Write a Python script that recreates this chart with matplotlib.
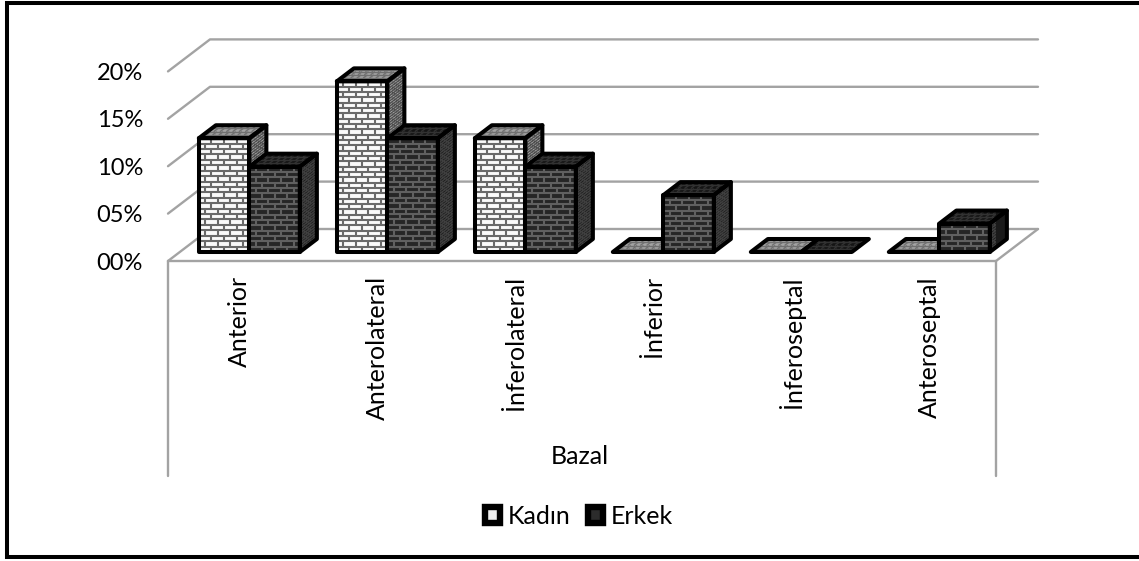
import numpy as np
import matplotlib
matplotlib.use("Agg")
import matplotlib.pyplot as plt
from matplotlib.collections import LineCollection
from matplotlib.patches import Polygon, Rectangle
from matplotlib.lines import Line2D
from matplotlib.transforms import ScaledTranslation

plt.rcParams["font.family"] = ["Lato", "DejaVu Sans"]

# Survey data
categories = ["Anterior", "Anterolateral", "İnferolateral", "İnferior", "İnferoseptal", "Anteroseptal"]
kadin = [12, 18, 12, 0, 0, 0]
erkek = [9, 12, 9, 6, 0, 3]
y_ticks = [0, 5, 10, 15, 20]
series_names = ["Kadın", "Erkek"]
group_label = "Bazal"

W, H = 1139, 561
fig = plt.figure(figsize=(W / 100, H / 100), dpi=100, facecolor="white")

# Axes rectangle is the front plane of the oblique 3D box
PX_LEFT, PX_RIGHT, PX_ZERO, PX_PER_PCT = 168, 996, 261, 9.48
ax = fig.add_axes([PX_LEFT / W, (H - PX_ZERO) / H, (PX_RIGHT - PX_LEFT) / W, 20 * PX_PER_PCT / H])
ax.set_xlim(0, len(categories))
ax.set_ylim(0, 20)
ax.patch.set_visible(False)
for s in ax.spines.values():
    s.set_visible(False)

ux = len(categories) / (PX_RIGHT - PX_LEFT)  # data units per pixel, x
uy = 1 / PX_PER_PCT                          # data units per pixel, y

# Oblique projection: depth 0 is the front plane, depth 1 the back wall
DX, DY = 42 * ux, 32 * uy


def proj(x, y, z):
    return np.array([x + z * DX, y + z * DY])


GRID = "#a3a3a3"
grid_kw = dict(color=GRID, lw=1.7, clip_on=False, solid_capstyle="round", zorder=1)
for t in y_ticks:
    a, b, c = proj(0, t, 0), proj(0, t, 1), proj(len(categories), t, 1)
    ax.plot([a[0], b[0], c[0]], [a[1], b[1], c[1]], **grid_kw)
# Floor edges
a, b = proj(len(categories), 0, 0), proj(len(categories), 0, 1)
ax.plot([0, len(categories)], [0, 0], **grid_kw)
ax.plot([a[0], b[0]], [a[1], b[1]], **grid_kw)
# Multi-level category brackets below the floor
drop = -(476 - PX_ZERO) * uy
for xe in (0, len(categories)):
    ax.plot([xe, xe], [0, drop], **grid_kw)


def brick_face(corner, u, v, base, mortar, n_u, n_v, z, lw=1.5):
    """Fill the parallelogram corner+u+v and lay a running-bond brick pattern on it."""
    corner, u, v = map(np.asarray, (corner, u, v))
    pts = [corner, corner + u, corner + u + v, corner + v]
    ax.add_patch(Polygon(pts, closed=True, facecolor=base, edgecolor="none", clip_on=False, zorder=z))
    segs = []
    for i in range(1, n_v):
        f = i / n_v
        segs.append([corner + f * v, corner + f * v + u])
    for i in range(n_v):
        f0, f1 = i / n_v, (i + 1) / n_v
        offset = 0.5 if i % 2 else 0.0
        for k in np.arange(offset, n_u + 0.01):
            g = k / n_u
            if 0 < g < 1:
                segs.append([corner + g * u + f0 * v, corner + g * u + f1 * v])
    if segs:
        ax.add_collection(LineCollection(segs, colors=mortar, linewidths=lw, zorder=z + 0.1))


def outline(pts, z):
    ax.add_patch(Polygon(pts, closed=True, facecolor="none", edgecolor="black", lw=2.9,
                         joinstyle="round", clip_on=False, zorder=z + 0.2))


BRICK_H = 5.4  # brick course, pixels
STYLE = {
    "Kadın": dict(front=("#fafafa", "#6a6a6a"), side=("#b4b4b4", "#4e4e4e"), top=("#a4a4a4", "#707070")),
    "Erkek": dict(front=("#262626", "#606060"), side=("#1a1a1a", "#404040"), top=("#141414", "#323232")),
}
Z_FRONT, Z_BACK = 9 / 32, 22 / 32
GROUP_W = 101 * ux
BAR_W = GROUP_W / 2
MARGIN = 19 * ux


def draw_bar(x0, value, name, z):
    x1 = x0 + BAR_W
    st = STYLE[name]
    fbl, fbr = proj(x0, 0, Z_FRONT), proj(x1, 0, Z_FRONT)
    ftl, ftr = proj(x0, value, Z_FRONT), proj(x1, value, Z_FRONT)
    bbr, btr = proj(x1, 0, Z_BACK), proj(x1, value, Z_BACK)
    btl = proj(x0, value, Z_BACK)
    courses = max(int(round(value * PX_PER_PCT / BRICK_H)), 1)
    if value > 0:
        brick_face(fbl, fbr - fbl, ftl - fbl, *st["front"], 4, courses, z)
        brick_face(fbr, bbr - fbr, ftr - fbr, *st["side"], 4, 2 * courses, z, lw=1.0)
        outline([fbl, fbr, ftr, ftl], z)
        outline([fbr, bbr, btr, ftr], z)
    brick_face(ftl, ftr - ftl, btl - ftl, *st["top"], 8, 4, z, lw=1.0)
    outline([ftl, ftr, btr, btl], z)


for i, (vk, ve) in enumerate(zip(kadin, erkek)):
    x0 = i + MARGIN
    draw_bar(x0, vk, "Kadın", 5 + 2 * i)
    draw_bar(x0 + BAR_W, ve, "Erkek", 6 + 2 * i)

FS = 18
# Axis labels
ax.set_yticks(y_ticks)
ax.set_yticklabels([f"{t:02d}%" for t in y_ticks])
ax.set_xticks(np.arange(len(categories)) + 0.5)
ax.set_xticklabels(categories, rotation=90, va="top", ha="center")
ax.tick_params(axis="y", length=0, pad=18, labelsize=17, labelcolor="black")
ax.tick_params(axis="x", length=0, pad=11, labelsize=FS, labelcolor="black")
nudge = ScaledTranslation(2.5 / 100, 0, fig.dpi_scale_trans)
for lbl in ax.get_xticklabels():
    lbl.set_transform(lbl.get_transform() + nudge)
ax.text(len(categories) * 0.4976, -(457 - PX_ZERO) * uy, group_label, ha="center", va="center", fontsize=FS)

# Legend
handles = [Rectangle((0, 0), 1, 1, facecolor="#f0f0f0", edgecolor="black", lw=4.6, joinstyle="round"),
           Rectangle((0, 0), 1, 1, facecolor="#2c2c2c", edgecolor="black", lw=4.6, joinstyle="round")]
fig.legend(handles, series_names, loc="center", bbox_to_anchor=(579 / W, 1 - 516 / H), ncol=2,
           frameon=False, fontsize=FS, handlelength=0.6, handleheight=0.6,
           handletextpad=0.3, columnspacing=0.7, borderpad=0)

# Chart border: left, top and bottom edges
fig.add_artist(Line2D([1, 7 / W, 7 / W, 1], [1 - 3 / H, 1 - 3 / H, 1 - 557 / H, 1 - 557 / H],
                      transform=fig.transFigure, color="black", lw=2.9, solid_joinstyle="miter", zorder=20))

fig.savefig("out.png", dpi=100)
